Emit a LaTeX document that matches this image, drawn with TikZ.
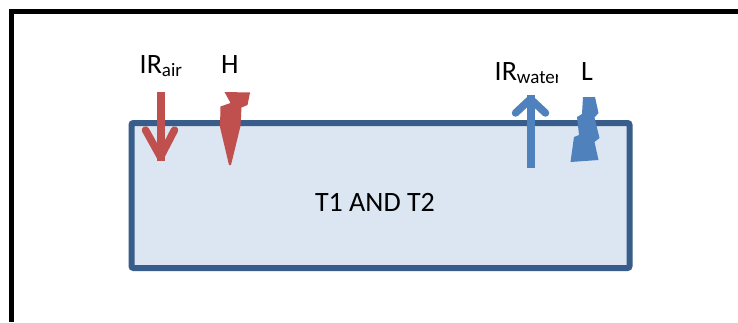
\documentclass[tikz,border=0pt]{standalone}
\usepackage{fontspec}
\setmainfont{Carlito}
\definecolor{heatred}{HTML}{C0504D}
\definecolor{coolblue}{HTML}{4F81BD}
\definecolor{tankedge}{HTML}{385D8A}
\definecolor{tankfill}{HTML}{DCE6F2}
\tikzset{
  lbl/.style={anchor=base west, inner sep=0pt, font=\fontsize{28}{30}\selectfont},
  tank/.style={draw=tankedge, fill=tankfill, line width=6pt, rounded corners=2pt},
  shaft/.style={line width=8pt, line cap=butt},
  barb/.style={line width=7.5pt, line cap=round, line join=round},
}
\newcommand{\subtxt}[1]{\raisebox{-3pt}{\fontsize{19}{20}\selectfont #1}}
\begin{document}
\begin{tikzpicture}[x=1pt,y=-1pt]
  \fill[white] (0,0) rectangle (738,322);
  \useasboundingbox (0,0) rectangle (738,322);
  % outer frame: two filled bars running off the page
  \fill[black] (8.5,8.5) rectangle (13.5,322);
  \fill[black] (8.5,8.5) rectangle (738,13.5);
  % tank
  \draw[tank] (131.5,123) rectangle (629.5,268);
  \node[inner sep=0pt, anchor=base, font=\fontsize{28}{30}\selectfont] (tanklabel) at (375,211) {T1 AND T2};
  % incoming longwave radiation
  \coordinate (irairtop) at (160.5,92);
  \coordinate (irairtip) at (160.5,157);
  \draw[heatred, shaft] (irairtop) -- ([yshift=-4pt]irairtip);
  \draw[heatred, barb] ([shift={(-15,-27)}]irairtip) -- (irairtip) -- ([shift={(14,-27)}]irairtip);
  \node[lbl] (irairlabel) at (139.5,73) {IR\subtxt{air}};
  % heat input
  \fill[heatred] (224.5,92) -- (250,92.5) -- (247.5,105) -- (241.5,107.5) -- (240.5,126)
    -- (231,165) -- (229,165) -- (220,127) -- (220.5,106.5) -- (230.5,103) -- cycle;
  \node[lbl] (hlabel) at (221,73) {H};
  % outgoing radiation from the water
  \coordinate (irwatertip) at (530.5,99);
  \coordinate (irwaterbot) at (530.5,168);
  \draw[coolblue, shaft] (irwaterbot) -- ([yshift=4pt]irwatertip);
  \draw[coolblue, barb] ([shift={(-15,14)}]irwatertip) -- (irwatertip) -- ([shift={(15,14)}]irwatertip);
  \begin{scope}
    \clip (480,40) rectangle (557,100);
    \node[lbl] (irwaterlabel) at (494.5,80) {IR\subtxt{water}};
  \end{scope}
  % heat loss
  \fill[coolblue] (583,97) -- (595,97) -- (598.5,113) -- (594.5,117.5) -- (599.5,138) -- (594.5,142)
    -- (598.5,160) -- (570.5,162) -- (574,137) -- (579,135) -- (577,117) -- (582,114) -- cycle;
  \node[lbl] (llabel) at (581,80) {L};
\end{tikzpicture}
\end{document}
